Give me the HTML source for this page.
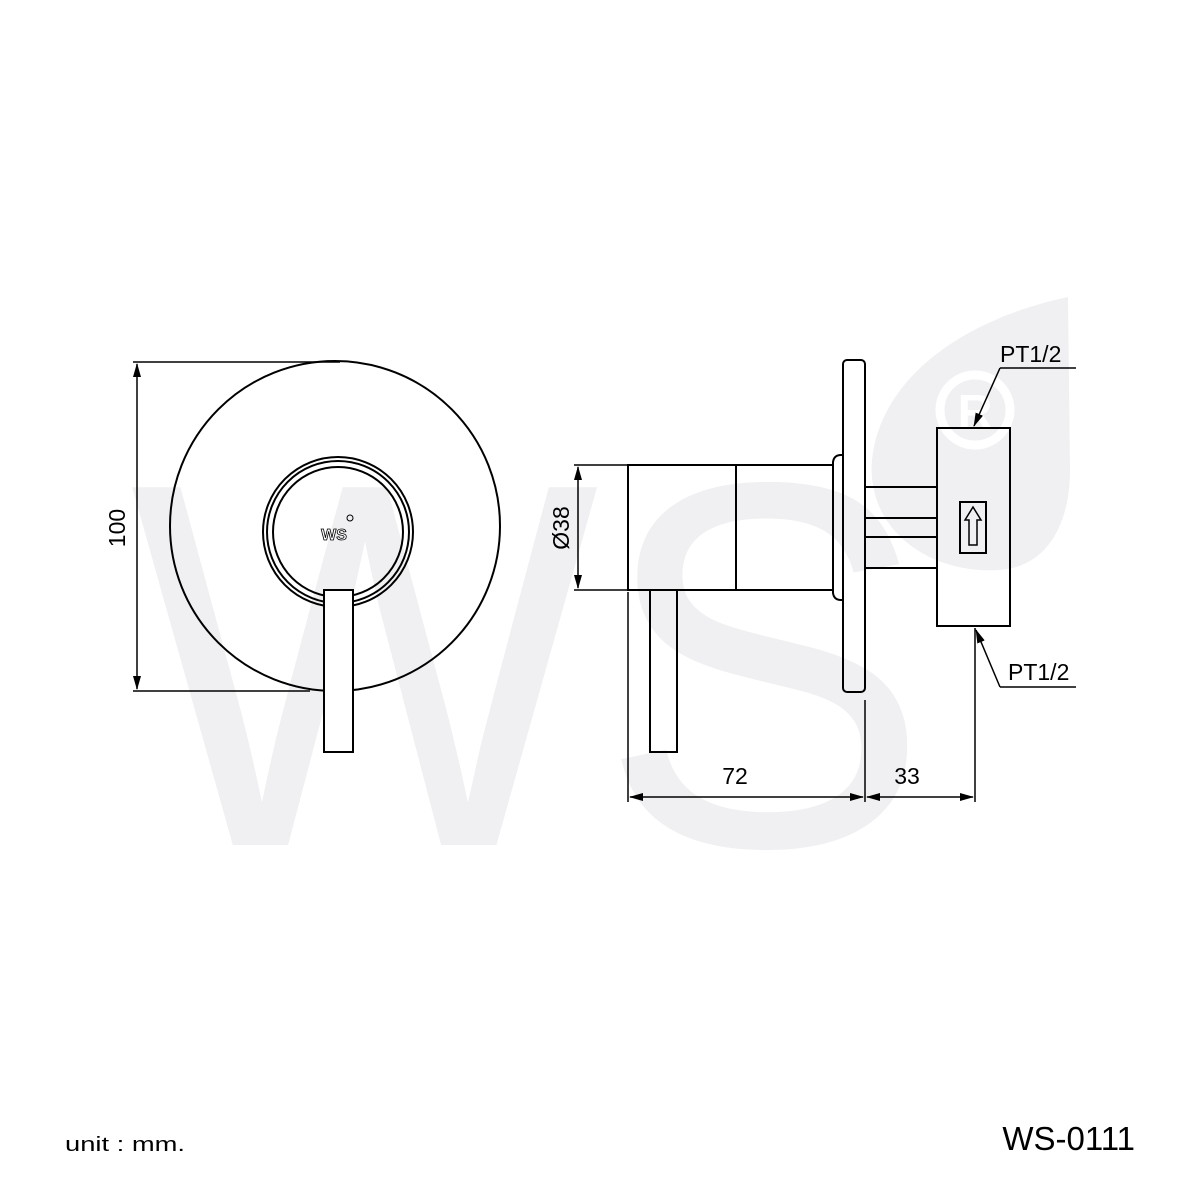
<!DOCTYPE html>
<html><head><meta charset="utf-8"><style>
html,body{margin:0;padding:0;background:#fff;}
svg{display:block;}
text{font-family:"Liberation Sans",sans-serif;}
</style></head><body>
<svg width="1181" height="1181" viewBox="0 0 1181 1181" xmlns="http://www.w3.org/2000/svg">
<defs>
<marker id="ar" markerWidth="14" markerHeight="8" refX="13" refY="4" orient="auto" markerUnits="userSpaceOnUse">
<path d="M0,0 L14,4 L0,8 Z" fill="#000"/></marker>
<marker id="as" markerWidth="14" markerHeight="8" refX="1" refY="4" orient="auto" markerUnits="userSpaceOnUse">
<path d="M14,0 L0,4 L14,8 Z" fill="#000"/></marker>
</defs>
<!-- watermark -->
<g fill="#f0f0f2">
<path d="M1068,297 C960,320 880,380 872,460 C866,530 930,575 1000,570 C1050,566 1070,520 1070,470 Z"/>
<text x="130" y="845" font-size="520" textLength="800" lengthAdjust="spacingAndGlyphs" style="font-family:'Liberation Sans',sans-serif">WS</text>
</g>
<circle cx="975" cy="410" r="35" fill="none" stroke="#fff" stroke-width="9"/>
<text x="975" y="428" font-size="48" font-weight="bold" fill="#fff" text-anchor="middle">R</text>

<g fill="none" stroke="#000" stroke-width="2">
<circle cx="335" cy="526" r="165" fill="none"/>
<circle cx="338" cy="532" r="75"/>
<circle cx="338" cy="532" r="71"/>
<circle cx="338" cy="532" r="65"/>
<rect x="324" y="590" width="29" height="162" fill="#fff"/>
<line x1="133" y1="362" x2="340" y2="362" stroke-width="1.5"/>
<line x1="133" y1="691" x2="310" y2="691" stroke-width="1.5"/>
<line x1="137" y1="364" x2="137" y2="689" stroke-width="1.5" marker-start="url(#as)" marker-end="url(#ar)"/>

<rect x="628" y="465" width="108" height="125"/>
<rect x="736" y="465" width="97" height="125"/>
<path d="M833,462 Q834,455 841,455 L843,455 L843,600 L841,600 Q834,600 833,593 Z"/>
<rect x="843" y="360" width="22" height="332" rx="4"/>
<line x1="865" y1="487" x2="937" y2="487"/>
<line x1="865" y1="518" x2="937" y2="518"/>
<line x1="865" y1="537" x2="937" y2="537"/>
<line x1="865" y1="568" x2="937" y2="568"/>
<rect x="937" y="428" width="73" height="198"/>
<rect x="960" y="502" width="26" height="51"/>
<path d="M973,507 L981,520 L977,520 L977,545 L969,545 L969,520 L965,520 Z" stroke-width="1.5"/>
<rect x="650" y="590" width="27" height="162"/>

<g stroke-width="1.5">
<line x1="574" y1="465" x2="628" y2="465"/>
<line x1="574" y1="590" x2="628" y2="590"/>
<line x1="578" y1="467" x2="578" y2="588" marker-start="url(#as)" marker-end="url(#ar)"/>
<line x1="628" y1="592" x2="628" y2="802"/>
<line x1="865" y1="700" x2="865" y2="802"/>
<line x1="975" y1="628" x2="975" y2="802"/>
<line x1="630" y1="797" x2="863" y2="797" marker-start="url(#as)" marker-end="url(#ar)"/>
<line x1="867" y1="797" x2="973" y2="797" marker-start="url(#as)" marker-end="url(#ar)"/>
<polyline points="1076,368 1000,368"/>
<line x1="1000" y1="368" x2="974" y2="426" marker-end="url(#ar)"/>
<polyline points="1076,687 1000,687"/>
<line x1="1000" y1="687" x2="976" y2="630" marker-end="url(#ar)"/>
</g>
</g>

<g font-size="23" fill="#000">
<text x="1000" y="362">PT1/2</text>
<text x="1008" y="680">PT1/2</text>
<text x="735" y="784" text-anchor="middle">72</text>
<text x="907" y="784" text-anchor="middle">33</text>
<text transform="translate(125,528) rotate(-90)" text-anchor="middle">100</text>
<text transform="translate(569,528) rotate(-90)" text-anchor="middle">Ø38</text>
</g>
<text x="334" y="540" font-size="16" font-weight="bold" fill="#fff" stroke="#000" stroke-width="0.8" text-anchor="middle">WS</text>
<circle cx="350" cy="518" r="3" fill="none" stroke="#000" stroke-width="1"/>
<text x="65" y="1151" font-size="20" fill="#000" textLength="120" lengthAdjust="spacingAndGlyphs">unit : mm.</text>
<text x="1135" y="1150" font-size="33" fill="#000" text-anchor="end">WS-0111</text>
</svg>
</body></html>
